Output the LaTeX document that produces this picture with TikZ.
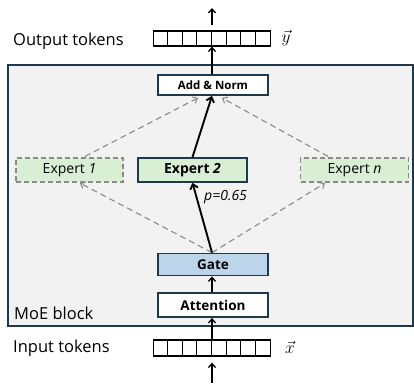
\documentclass[tikz,border=0pt]{standalone}
\usepackage{fontspec}
\setmainfont{Open Sans}
\usetikzlibrary{arrows.meta,calc}
\definecolor{boxline}{HTML}{1E3A4A}
\definecolor{blockfill}{HTML}{F2F2F2}
\definecolor{expfill}{HTML}{D9EFD4}
\definecolor{gatefill}{HTML}{BDD5EA}
\definecolor{dashgray}{HTML}{8A8A8A}
\tikzset{
  layerbox/.style={draw=boxline,line width=1.8pt,fill=white,inner sep=0pt,font=\fontsize{13.5}{15}\selectfont\bfseries},
  expbox/.style={draw=dashgray,line width=1.2pt,dash pattern=on 5pt off 3pt,fill=expfill,inner sep=0pt,minimum height=24pt,font=\fontsize{14}{16}\selectfont},
  tokrow/.style={draw=black,line width=1.1pt,fill=white,inner sep=0pt,minimum width=117pt},
  flow/.style={-{Straight Barb[length=4pt,width=7pt]},line width=1.3pt,black},
  mainflow/.style={-{Straight Barb[length=4.5pt,width=8pt]},line width=1.9pt,black},
  dflow/.style={-{Straight Barb[length=4pt,width=7pt]},line width=1.1pt,dashgray,dash pattern=on 6pt off 4pt},
  sidelabel/.style={font=\fontsize{16.5}{18}\selectfont,inner sep=0pt,anchor=base west},
  veclabel/.style={font=\fontsize{18}{20}\selectfont,inner sep=0pt},
}
\begin{document}
\begin{tikzpicture}[x=1pt,y=-1pt]
\useasboundingbox (0,0) rectangle (414,383);
% MoE block background
\draw[draw=boxline,line width=1.2pt,fill=blockfill] (8,65) rectangle (413,326);
\node[sidelabel] (moe) at (14,319) {MoE block};
% output tokens
\node[tokrow,minimum height=15pt] (yout) at (212,38.5) {};
\foreach \i in {1,...,7} {\draw[line width=1.1pt] ($(yout.north west)+(\i*14.625,0)$) -- ($(yout.south west)+(\i*14.625,0)$);}
\node[sidelabel] (outlbl) at (13,45.5) {Output tokens};
\node[veclabel] (yvec) at (286,38) {$\vec{y}$};
% input tokens
\node[tokrow,minimum height=16pt] (xin) at (212,348) {};
\foreach \i in {1,...,7} {\draw[line width=1.1pt] ($(xin.north west)+(\i*14.625,0)$) -- ($(xin.south west)+(\i*14.625,0)$);}
\node[sidelabel] (inlbl) at (13,352) {Input tokens};
\node[veclabel] (xvec) at (290,347) {$\vec{x}$};
% layers
\node[layerbox,minimum width=110pt,minimum height=20pt,font=\fontsize{11.5}{13}\selectfont\bfseries] (addnorm) at (213,85) {Add \& Norm};
\node[layerbox,fill=expfill,minimum width=109pt,minimum height=24pt,font=\fontsize{14}{16}\selectfont\bfseries] (exp2) at (192.5,170) {Expert \textit{2}};
\node[expbox,minimum width=107pt] (exp1) at (69.5,170) {Expert \textit{1}};
\node[expbox,minimum width=108pt] (expn) at (354.5,170) {Expert \textit{n}};
\node[layerbox,fill=gatefill,minimum width=110pt,minimum height=22pt] (gate) at (213,264.5) {Gate};
\node[layerbox,minimum width=110pt,minimum height=24pt] (attn) at (213,305) {Attention};
\node[font=\fontsize{14}{16}\selectfont\itshape,inner sep=0pt,anchor=west] (plbl) at (204,197) {p=0.65};
% coordinates for free ends
\coordinate (topend) at (212,8);
\coordinate (botend) at (212,383);
% connectors
\draw[flow,shorten <=5pt] (yout.north) -- (topend);
\draw[flow] (addnorm.north -| yout.north) -- (yout.south);
\draw[flow,shorten >=6pt] (botend) -- (xin.south);
\draw[flow] (xin.north) -- (attn.south -| xin.north);
\draw[flow] (attn.north -| xin.north) -- (gate.south -| xin.north);
\draw[dflow] (gate.north -| xin.north) -- ($(exp1.south)+(10.5,0.5)$);
\draw[dflow] (gate.north -| xin.north) -- ($(expn.south)+(-29.5,0.5)$);
\draw[dflow] ($(exp1.north)+(15.5,-1)$) -- ($(addnorm.south)+(-15,2)$);
\draw[dflow] ($(expn.north)+(-26.5,-1)$) -- ($(addnorm.south)+(9,2)$);
\draw[mainflow] (gate.north -| xin.north) -- (exp2.south);
\draw[mainflow] (exp2.north) -- (addnorm.south -| xin.north);
\end{tikzpicture}
\end{document}
